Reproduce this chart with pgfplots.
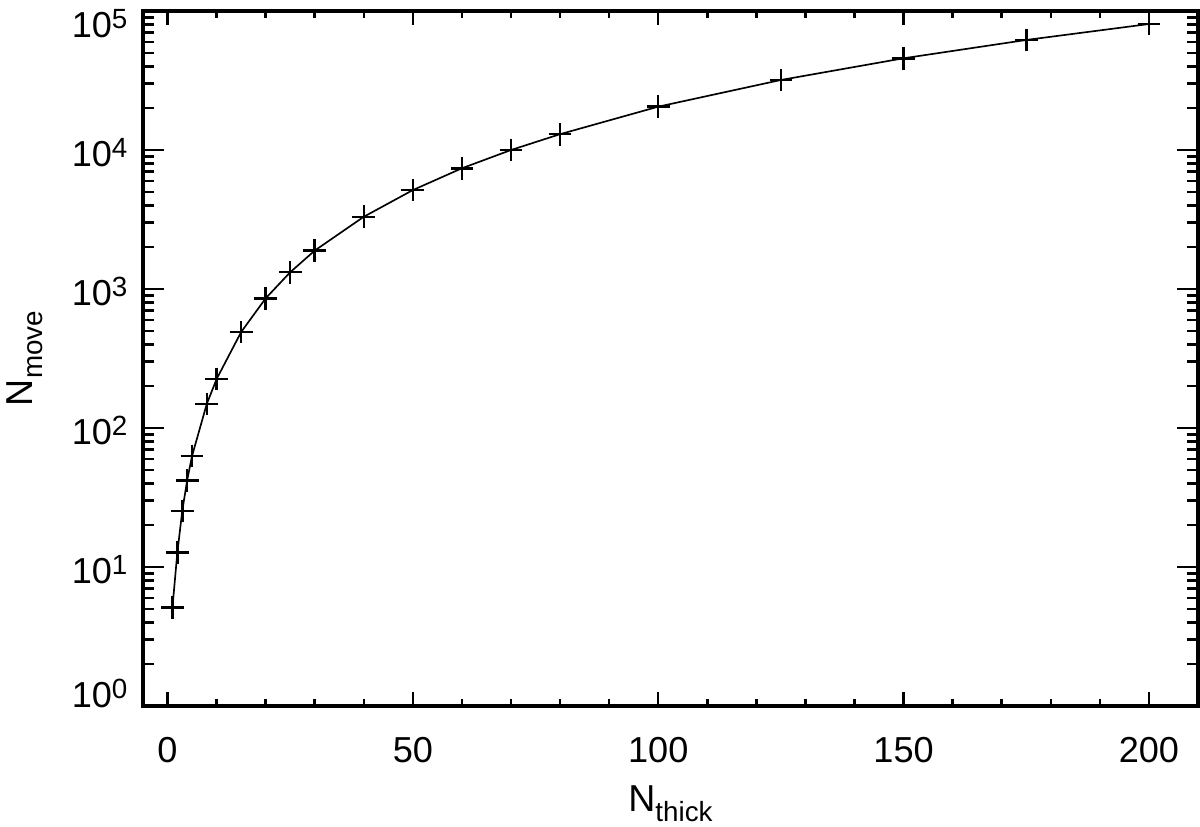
\documentclass[border=0pt]{standalone}
\usepackage{fontspec}
\setmainfont{Liberation Sans}
\usepackage{pgfplots}
\pgfplotsset{compat=1.18}
\usetikzlibrary{calc}

% exponent label: "10" with a raised small digit
\newcommand\tl[1]{10\raisebox{3.2pt}{\fontsize{10}{10}\selectfont #1}}

\pgfplotsset{
  box/.style={
    scale only axis,
    width=379.8pt, height=250.2pt,
    xmin=-5, xmax=210,
    axis line style={line width=1.1pt},
    tick align=inside,
    tick style={black, line width=0.9pt},
    ticklabel style={font=\fontsize{13}{15}\selectfont, inner sep=0pt},
  }
}

\begin{document}
\begin{tikzpicture}
% y axis ticks, labels and the data
\begin{axis}[
    box, name=a,
    ymode=log, ymin=1, ymax=1e5,
    major tick length=7.6pt, minor tick length=4pt,
    xtick=\empty,
    ytick={1,10,100,1000,10000,100000},
    yticklabels={\raisebox{5.4pt}{\tl0},\tl1,\tl2,\tl3,\tl4,\raisebox{-3.6pt}{\tl5}},
    yticklabel style={anchor=base east, yshift=-5.8pt, xshift=-5.4pt},
    xlabel={N\raisebox{-3.6pt}{\fontsize{10}{10}\selectfont thick}},
    ylabel={N\raisebox{-3.6pt}{\fontsize{10}{10}\selectfont move}},
    label style={font=\fontsize{13.5}{15}\selectfont, inner sep=0pt},
    xlabel style={at={(axis description cs:0.5,-0.1525)}, anchor=base},
    ylabel style={at={(axis description cs:-0.1052,0.5)}, anchor=base, rotate=0},
  ]
  \addplot[black, line width=0.6pt, mark=+, mark size=4.1pt,
           mark options={line width=0.9pt}] coordinates {
    (1,5.1) (2,12.7) (3,25.3) (4,42) (5,63) (8,149) (10,225) (15,490)
    (20,857) (25,1320) (30,1890) (40,3310) (50,5150) (60,7390) (70,10000)
    (80,13000) (100,20500) (125,31900) (150,45700) (175,61900) (200,80600)
  };
\end{axis}
% x axis ticks (shorter) and their labels
\begin{axis}[
    box,
    ymin=0, ymax=1, ytick=\empty,
    major tick length=5pt, minor tick length=2.5pt,
    xtick={0,50,100,150,200}, minor x tick num=4,
    /pgf/number format/assume math mode=true,
    xticklabel style={anchor=base, yshift=-20.5pt},
  ]
\end{axis}
\pgfresetboundingbox
\path ($(a.south west)+(-51.48pt,-43.56pt)$) rectangle ($(a.north east)+(0.72pt,3.96pt)$);
\end{tikzpicture}
\end{document}
